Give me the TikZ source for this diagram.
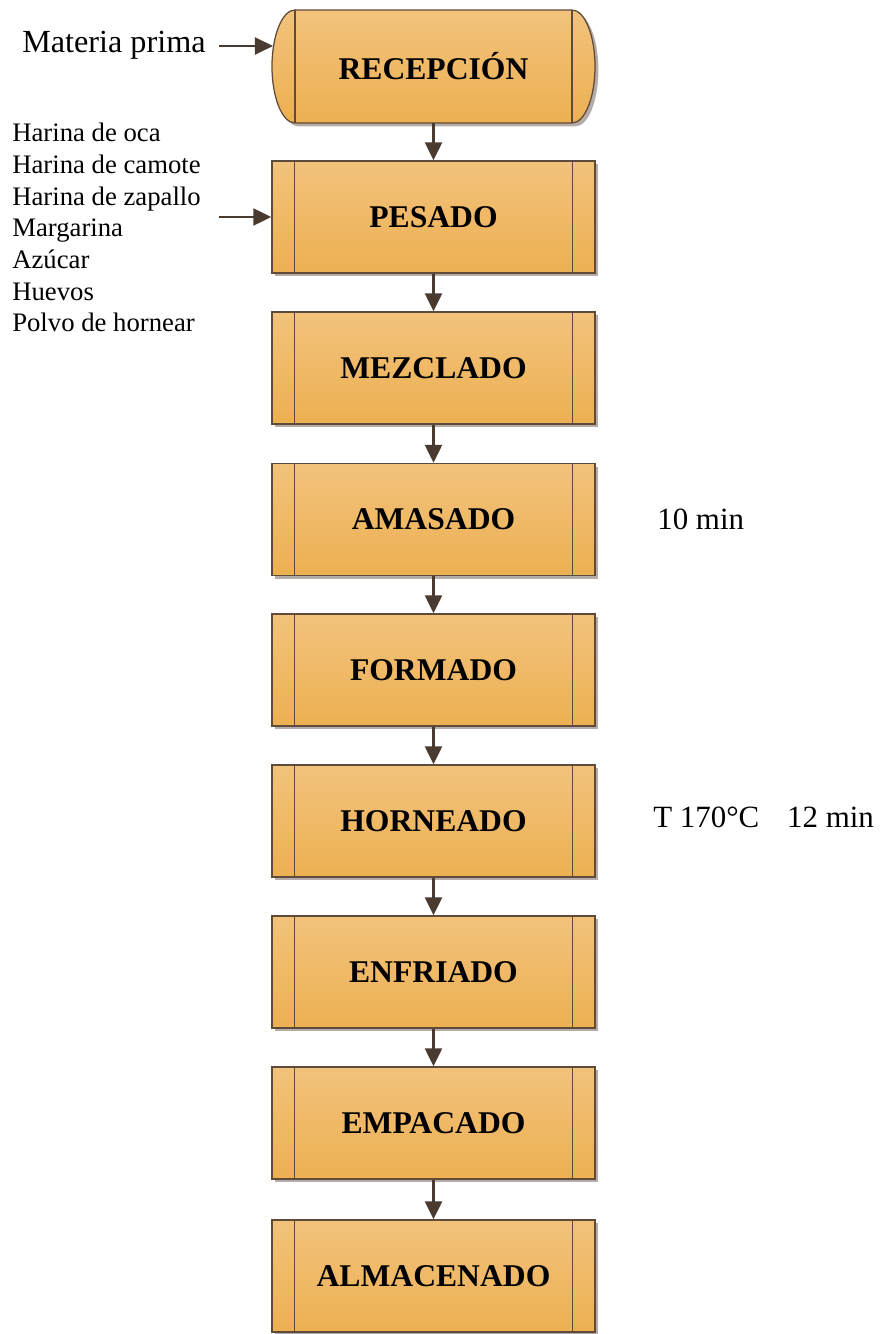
\documentclass[tikz,border=0pt]{standalone}
\usepackage{fontspec}
\setmainfont{Liberation Serif}
\usetikzlibrary{arrows.meta,shadows}
\definecolor{boxtop}{HTML}{F2C27C}
\definecolor{boxbot}{HTML}{EDB052}
\definecolor{edgebrown}{HTML}{5E4B3A}
\definecolor{arrowbrown}{HTML}{4A3B30}
\definecolor{shadowgray}{HTML}{B5ABA9}
\tikzset{
  boxshadow/.style={drop shadow={shadow xshift=0.085cm, shadow yshift=-0.085cm, fill=shadowgray, opacity=1}},
  procbox/.style={draw=edgebrown, line width=0.9pt, top color=boxtop, bottom color=boxbot,
    minimum width=8.075cm, minimum height=2.8cm, inner sep=0pt,
    font=\fontsize{22.5}{27}\selectfont\bfseries, boxshadow},
  flow/.style={draw=arrowbrown, line width=2pt, -{Triangle[length=0.45cm,width=0.42cm]}},
  side/.style={font=\fontsize{22}{26}\selectfont, inner sep=0pt},
}

\begin{document}
\begin{tikzpicture}[x=0.025cm,y=-0.025cm]
        \useasboundingbox (0,0) rectangle (882,1334);
        \draw[draw=edgebrown, line width=0.9pt, top color=boxtop, bottom color=boxbot, boxshadow]
            (295,10) -- (572,10) arc[start angle=90, end angle=-90, x radius=0.575cm, y radius=1.4125cm]
            -- (295,123) arc[start angle=270, end angle=90, x radius=0.575cm, y radius=1.4125cm] -- cycle;
        \draw[edgebrown, line width=0.9pt] (295,10) -- (295,123) (572,10) -- (572,123);
        \node[minimum width=8.075cm, minimum height=2.825cm, inner sep=0pt, font=\fontsize{22.5}{27}\selectfont\bfseries] (recep) at (433.5,66.5) {RECEPCIÓN};

        \node[procbox] (pesado) at (433.5,217) {PESADO};
        \node[procbox] (mezcla) at (433.5,368) {MEZCLADO};
        \node[procbox] (amasa) at (433.5,519.5) {AMASADO};
        \node[procbox] (forma) at (433.5,670) {FORMADO};
        \node[procbox] (horno) at (433.5,821) {HORNEADO};
        \node[procbox] (enfria) at (433.5,972) {ENFRIADO};
        \node[procbox] (empaca) at (433.5,1123) {EMPACADO};
        \node[procbox] (almacen) at (433.5,1276) {ALMACENADO};
        \foreach \n in {pesado,mezcla,amasa,forma,horno,enfria,empaca,almacen}
            \draw[edgebrown, line width=0.9pt] ([xshift=0.575cm]\n.north west) -- ([xshift=0.575cm]\n.south west)
                ([xshift=-0.575cm]\n.north east) -- ([xshift=-0.575cm]\n.south east);

        \draw[flow] (recep.south) -- (pesado.north);
        \draw[flow] (pesado.south) -- (mezcla.north);
        \draw[flow] (mezcla.south) -- (amasa.north);
        \draw[flow] (amasa.south) -- (forma.north);
        \draw[flow] (forma.south) -- (horno.north);
        \draw[flow] (horno.south) -- (enfria.north);
        \draw[flow] (enfria.south) -- (empaca.north);
        \draw[flow] (empaca.south) -- (almacen.north);

        \node[side, anchor=base west, font=\fontsize{22.9}{27}\selectfont] (mat) at (22,53) {Materia prima};
        \coordinate (recepin) at (273,46);
        \draw[flow] ([xshift=0.325cm]mat.east |- recepin) -- (recepin);

        \node[anchor=north west, inner sep=0pt, align=left, font=\fontsize{19}{22.5}\selectfont] (ingr) at (12,123)
            {Harina de oca\\Harina de camote\\Harina de zapallo\\Margarina\\Azúcar\\Huevos\\Polvo de hornear};
        \draw[flow] ([xshift=0.45cm]ingr.east |- pesado.west) -- (pesado.west);

        \node[side, anchor=base west] (tamasa) at (657,529) {10 min};
        \node[side, anchor=base west] (thorno) at (653,827) {T 170°C\hspace{0.65em} 12 min};
\end{tikzpicture}
\end{document}
